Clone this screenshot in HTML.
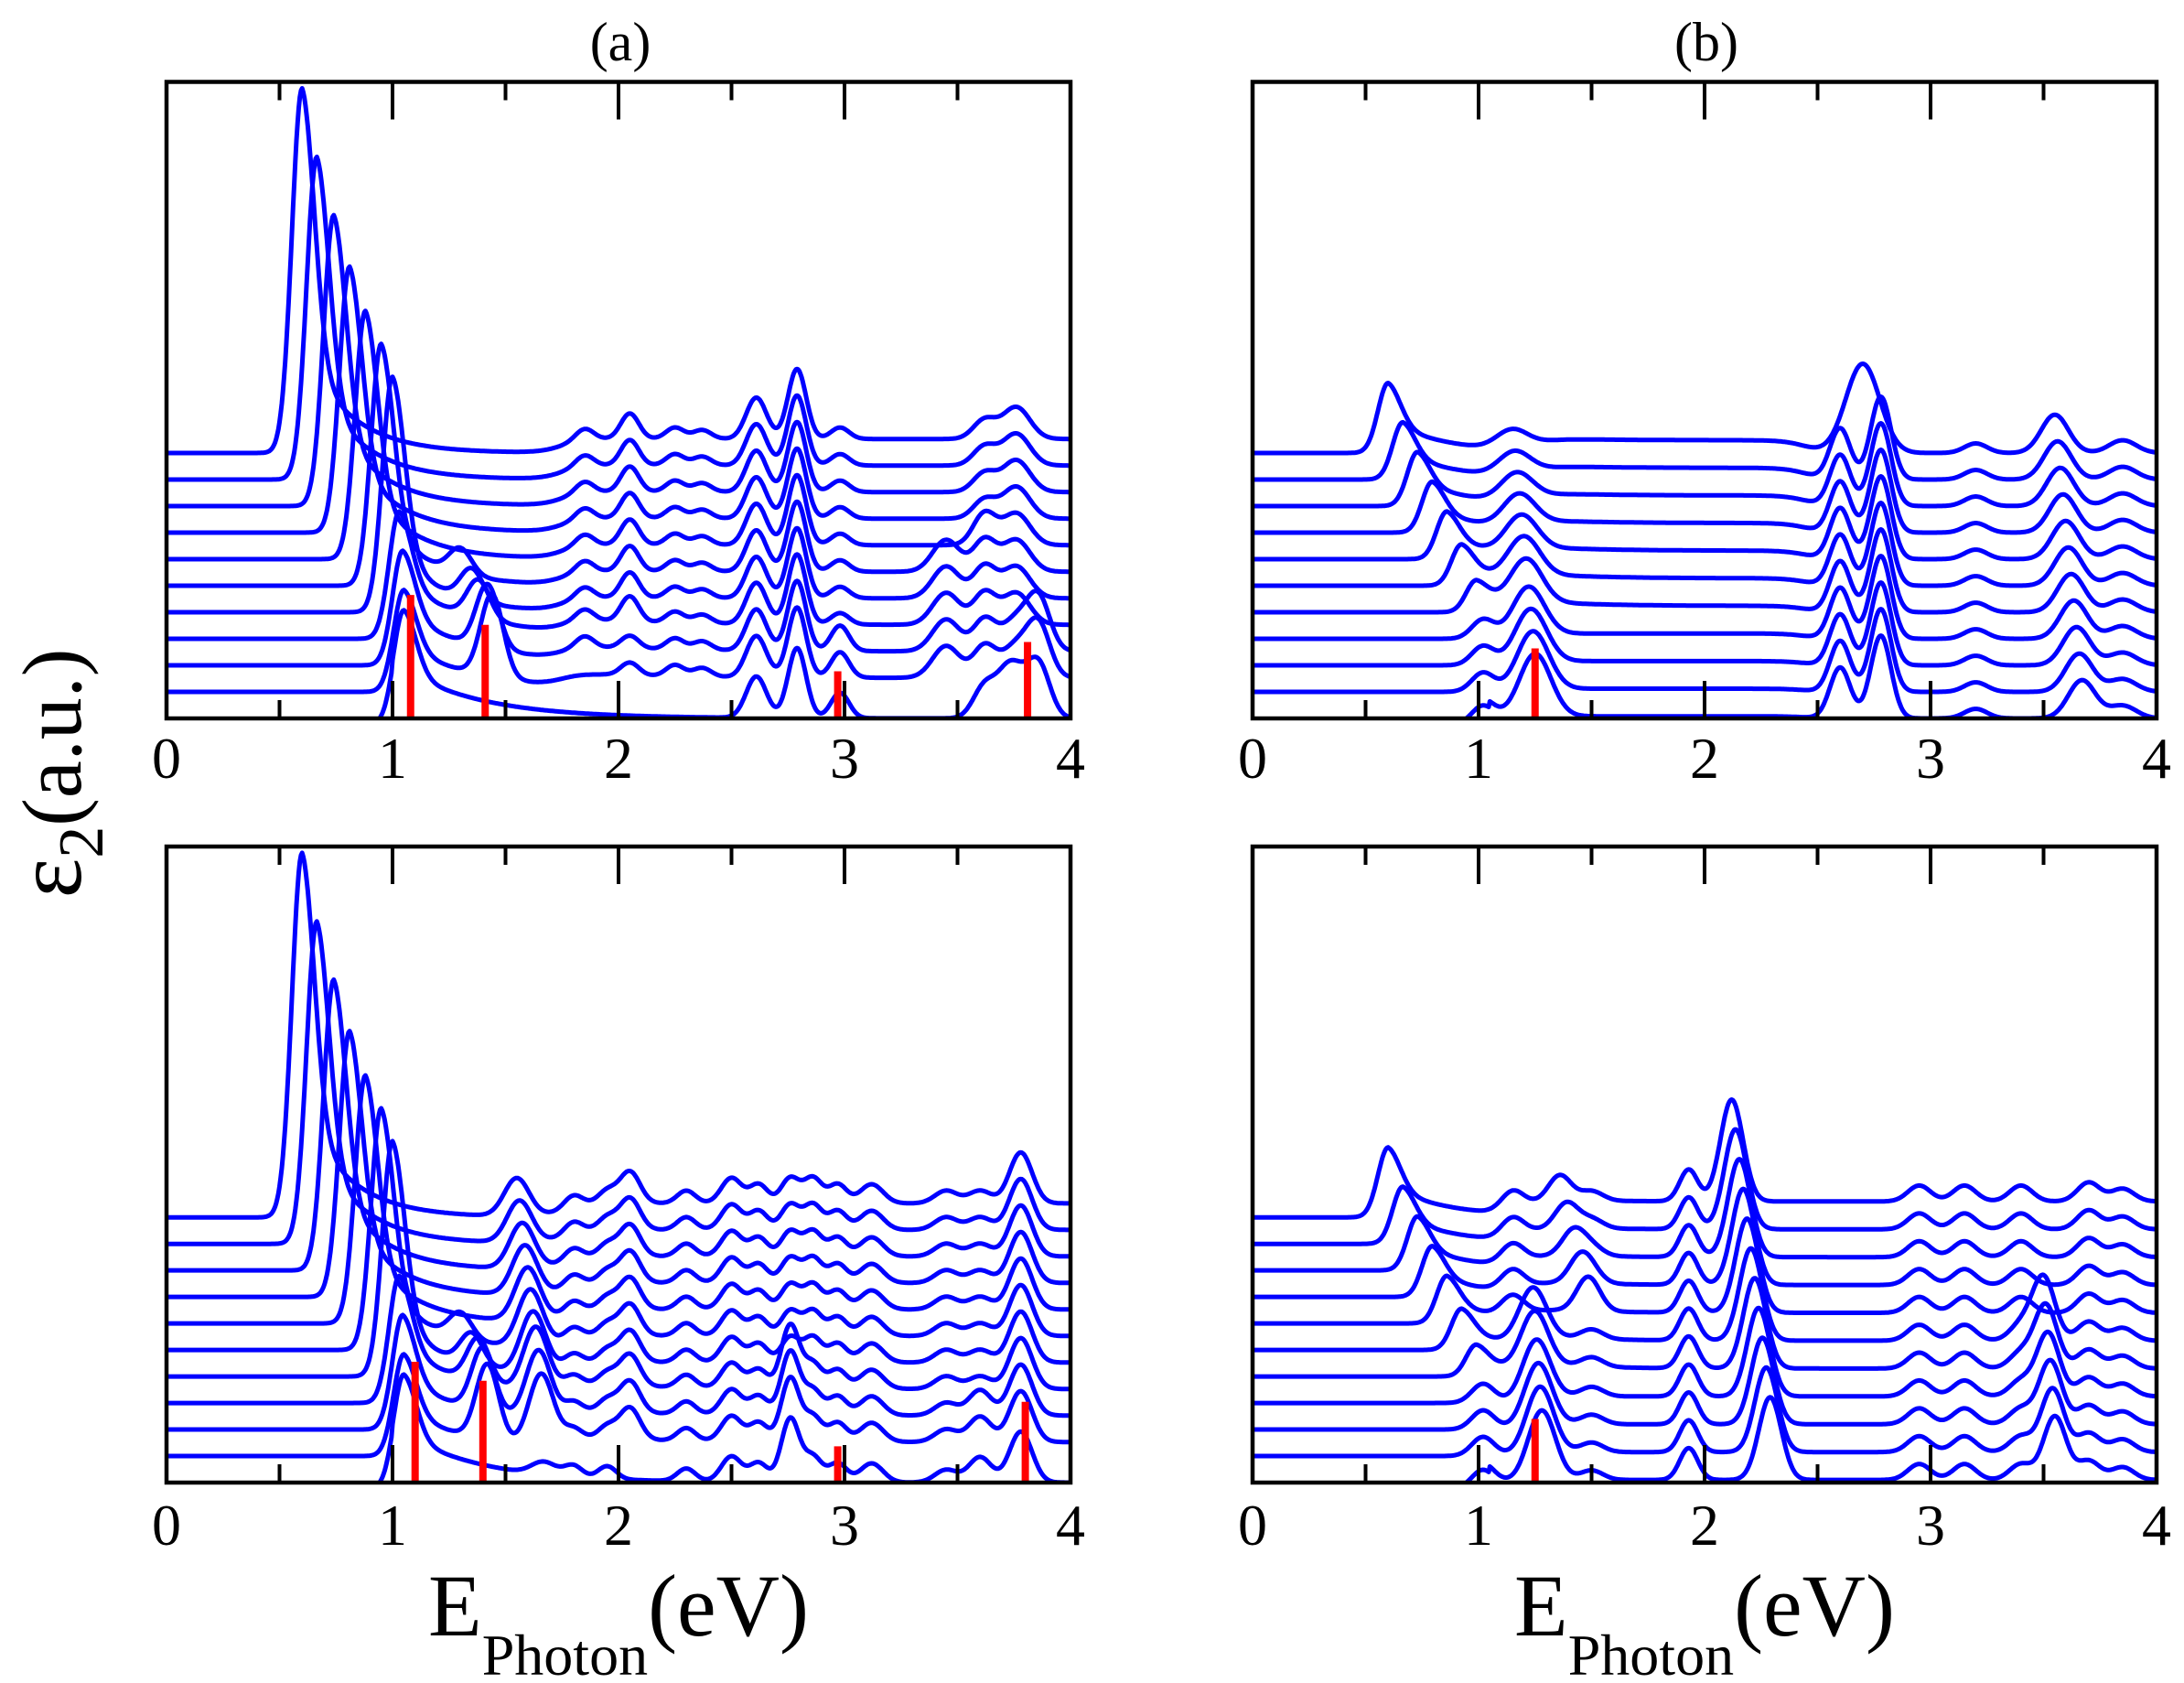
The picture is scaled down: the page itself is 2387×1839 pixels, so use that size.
<!DOCTYPE html>
<html><head><meta charset="utf-8"><style>html,body{margin:0;padding:0;background:#fff}svg{display:block}</style></head>
<body>
<svg id="s" width="2387" height="1839" viewBox="0 0 2387 1839" xmlns="http://www.w3.org/2000/svg" font-family="Liberation Serif, serif">
<g id="curves"></g>
<g id="frames"></g>
<text x="678" y="66" font-size="60" text-anchor="middle">(a)</text>
<text x="1865" y="66" font-size="60" text-anchor="middle">(b)</text>
<text x="676" y="1787" text-anchor="middle"><tspan font-size="96">E</tspan><tspan font-size="64" dy="43">Photon</tspan><tspan font-size="96" dy="-43">(eV)</tspan></text>
<text x="1863" y="1787" text-anchor="middle"><tspan font-size="96">E</tspan><tspan font-size="64" dy="43">Photon</tspan><tspan font-size="96" dy="-43">(eV)</tspan></text>
<text transform="translate(88,845) rotate(-90)" text-anchor="middle"><tspan font-size="104">ε</tspan><tspan font-size="70" dy="24">2</tspan><tspan font-size="92" dy="-24">(a.u.)</tspan></text>
</svg>
<script>
(function(){
var NS="http://www.w3.org/2000/svg";
var panels=[{x0:182,y0:89.5,y1:785,lab:850,k:'at'},{x0:1369,y0:89.5,y1:785,lab:850,k:'bt'},
{x0:182,y0:925,y1:1620,lab:1688,k:'ab'},{x0:1369,y0:925,y1:1620,lab:1688,k:'bb'}];
var W=988;
function g(x,c,s){var d=(x-c)/s;return Math.exp(-d*d/2);}
function sm(x,a,w){return 1/(1+Math.exp(-(x-a)/w));}
function mainA(x,c,A,tau,fr){if(x<c)return A*g(x,c,0.045);var d=x-c;return A*((1-fr)*g(x,c,0.055)+fr*Math.exp(-d/tau));}
function fA(i,x,bottom){
 var c=[0.6,0.665,0.74,0.81,0.88,0.95,1.0,1.03,1.045,1.05,1.05][i];
 var A=[0.573,0.507,0.457,0.418,0.39,0.38,0.37,0.2,0.18,0.16,0.17][i];
 var y=mainA(x,c,A,i>=7?0.35:0.2,i>=7?0.45:0.3);
 var bgk=(i==10)?0:1;
 y+=bgk*0.022*sm(x,1.75,0.05);
 if(!bottom){
  if(i>=5&&i<=9){var cc=[1.3,1.35,1.38,1.42,1.44][i-5],aa=[0.04,0.05,0.06,0.1,0.13][i-5];y+=aa*g(x,cc,0.05);}
  if(i<=8)y+=0.018*g(x,1.85,0.04);
  y+=(i<=7?0.04:0.02)*g(x,2.05,0.04)*bgk;
  y+=0.018*g(x,2.25,0.04)*bgk+0.014*g(x,2.37,0.04)*bgk;
  y+=0.065*g(x,2.61,0.045)+0.11*g(x,2.79,0.04);
  y+=(i>=8?0.04:0.018)*g(x,2.98,0.04);
  if(i>=5&&i<=9)y+=0.05*g(x,3.45,0.06);
  y+=(i<4?0.03:0.05)*g(x,3.62,0.05)+0.05*g(x,3.76,0.06);
  if(i>=8)y+=0.08*g(x,3.86,0.05);
  if(i==10)y+=0.04*g(x,3.72,0.05);
 }else{
  if(i>=5&&i<=9){var cc=[1.3,1.35,1.38,1.4,1.42][i-5],aa=[0.04,0.05,0.07,0.1,0.12][i-5];y+=aa*g(x,cc,0.05);}
  var pc=1.55+0.012*i, pa=0.06+0.006*i; if(i==10)pa=0.02;
  y+=pa*g(x,pc,0.055);
  y+=0.018*g(x,1.8,0.04)+0.02*g(x,1.95,0.04)+0.05*g(x,2.05,0.045)*bgk;
  y+=0.02*g(x,2.3,0.04)+0.04*g(x,2.5,0.045)+0.03*g(x,2.62,0.04);
  y+=(i>=7?0.1:0.04)*g(x,2.76,0.04)+0.04*g(x,2.86,0.04)+0.03*g(x,2.97,0.04);
  y+=0.03*g(x,3.12,0.05)+0.02*g(x,3.45,0.05)+(i>=8?0.04:0.02)*g(x,3.6,0.05)+0.08*g(x,3.78,0.05);
 }
 return y;
}
function fB(i,x,bottom){
 var y=0;
 if(i<=6){var c=0.6+0.065*i,A=[0.11,0.09,0.085,0.08,0.075,0.065,0.05][i];y+=mainA(x,c,A,0.25,0.45);}
 else {y+=0.03*g(x,1.02,0.05);}
 var bgk=1-i/12;
 if(!bottom){
  y+=(0.03+0.007*i)*g(x,1.15+0.01*i,0.07);
  y+=0.02*bgk*sm(x,1.25,0.05)*(1-sm(x,2.45,0.05));
  if(i==0){y+=0.14*g(x,2.7,0.075);}else{y+=0.08*g(x,2.6,0.045)+0.13*g(x,2.78,0.045);}
  y+=0.015*g(x,3.2,0.05);
  y+=0.06*g(x,3.55+0.012*i,0.06)+0.02*g(x,3.85,0.06);
 }else{
  if(i<=4){y+=0.03*g(x,1.15,0.05)+0.04*g(x,1.36+0.03*i,0.05);}
  else y+=(0.05+0.006*i)*g(x,1.2+0.008*i,0.06);
  y+=0.015*g(x,1.5,0.05);
  y+=0.025*bgk*sm(x,1.2,0.05);
  y+=0.05*g(x,1.93,0.04);
  y+=(0.16-0.003*i)*g(x,2.12+0.017*i,0.05);
  y+=0.025*g(x,2.95,0.05)+0.025*g(x,3.15,0.05)+0.025*g(x,3.4,0.05);
  if(i>=5)y+=0.1*g(x,3.45+0.01*i,0.05);
  y+=0.03*g(x,3.7,0.05)+0.02*g(x,3.85,0.05);
 }
 return y;
}
var cg=document.getElementById('curves'),fg=document.getElementById('frames');
function el(n,a,p){var e=document.createElementNS(NS,n);for(var k in a)e.setAttribute(k,a[k]);(p||fg).appendChild(e);return e;}
var bars={at:[[1.08,0.194],[1.41,0.147],[2.97,0.074],[3.81,0.12]],bt:[[1.25,0.11]],ab:[[1.1,0.19],[1.4,0.16],[2.97,0.057],[3.8,0.127]],bb:[[1.25,0.1]]};
panels.forEach(function(p){
 var H=p.y1-p.y0;
 var cp=el('clipPath',{id:'c'+p.k},cg);el('rect',{x:p.x0,y:p.y0,width:W,height:H},cp);
 var gg=el('g',{'clip-path':'url(#c'+p.k+')'},cg);
 for(var i=0;i<11;i++){
  var b=0.417-0.0417*i,d='';
  for(var j=0;j<=800;j++){var x=j*4/800;
   var v=(p.k[0]=='a')?fA(i,x,p.k[1]=='b'):fB(i,x,p.k[1]=='b');
   var yy=b+v; if(i==10&&x<(p.k[0]=='a'?1.0:1.05))yy=Math.min(yy,v-0.01);
   d+=(j?'L':'M')+(p.x0+x/4*W).toFixed(1)+' '+(p.y1-yy*H).toFixed(1);}
  el('path',{d:d,fill:'none',stroke:'#0000ff','stroke-width':5,'stroke-linejoin':'round'},gg);
 }
 bars[p.k].forEach(function(bb){var X=p.x0+bb[0]/4*W;el('line',{x1:X,x2:X,y1:p.y1,y2:p.y1-bb[1]*H,stroke:'#ff0000','stroke-width':8},gg);});
 el('rect',{x:p.x0,y:p.y0,width:W,height:H,fill:'none',stroke:'#000','stroke-width':4.5});
 for(var t=1;t<8;t++){var X=p.x0+t*W/8,L=(t%2==0)?41:20;
  el('line',{x1:X,x2:X,y1:p.y0,y2:p.y0+L,stroke:'#000','stroke-width':4});
  el('line',{x1:X,x2:X,y1:p.y1,y2:p.y1-L,stroke:'#000','stroke-width':4});}
 for(var t=0;t<=4;t++){var tx=el('text',{x:p.x0+t*W/4,y:p.lab,'font-size':64,'text-anchor':'middle'});tx.textContent=t;}
});
})();
</script>
</body></html>
